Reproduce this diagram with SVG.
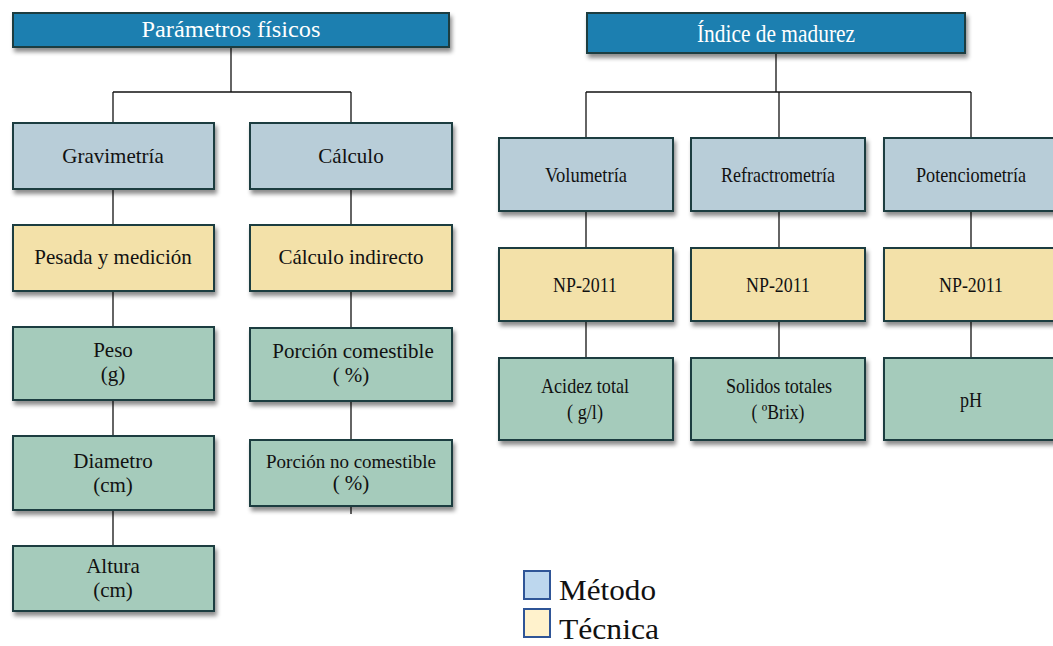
<svg xmlns="http://www.w3.org/2000/svg" width="1053" height="646" viewBox="0 0 1053 646">
  <defs>
    <filter id="shadow" x="-10%" y="-20%" width="130%" height="160%">
      <feDropShadow dx="2" dy="4" stdDeviation="2" flood-color="#000" flood-opacity="0.45"/>
    </filter>
  </defs>
  <style>
    .box { stroke: #1f3c40; stroke-width: 2; filter: url(#shadow); }
    .head { fill: #1f7fb0; }
    .method { fill: #b8cdd8; }
    .tech { fill: #f3e1a9; }
    .result { fill: #a5cbbb; }
    text { font-family: "Liberation Serif", "Times New Roman", serif; fill: #111; text-anchor: middle; }
    .ht { fill: #fff; }
    .l { font-size: 21px; }
    .r { font-size: 22px; }
    .conn line { stroke: #111; stroke-width: 1.3; }
    .leg { stroke: #2f5597; stroke-width: 2; }
    .legt { font-size: 30px; text-anchor: start; }
  </style>

  <!-- connectors -->
  <g id="connectors" class="conn">
    <line x1="231" y1="47" x2="231" y2="92"/>
    <line x1="113" y1="92" x2="351" y2="92"/>
    <line x1="113" y1="92" x2="113" y2="123"/>
    <line x1="351" y1="92" x2="351" y2="123"/>
    <line x1="113" y1="189" x2="113" y2="225"/>
    <line x1="113" y1="291" x2="113" y2="327"/>
    <line x1="113" y1="400" x2="113" y2="436"/>
    <line x1="113" y1="510" x2="113" y2="546"/>
    <line x1="351" y1="189" x2="351" y2="225"/>
    <line x1="351" y1="291" x2="351" y2="328"/>
    <line x1="351" y1="401" x2="351" y2="440"/>
    <line x1="351" y1="506" x2="351" y2="514"/>

    <line x1="776" y1="53" x2="776" y2="92"/>
    <line x1="586" y1="92" x2="971" y2="92"/>
    <line x1="586" y1="92" x2="586" y2="138"/>
    <line x1="779" y1="92" x2="779" y2="138"/>
    <line x1="971" y1="92" x2="971" y2="138"/>
    <line x1="586" y1="211" x2="586" y2="248"/>
    <line x1="779" y1="211" x2="779" y2="248"/>
    <line x1="971" y1="211" x2="971" y2="248"/>
    <line x1="586" y1="321" x2="586" y2="358"/>
    <line x1="779" y1="321" x2="779" y2="358"/>
    <line x1="971" y1="321" x2="971" y2="358"/>
  </g>

  <!-- left tree: physical parameters -->
  <g id="parametros">
    <rect class="box head" x="13" y="13" width="436" height="34"/>
    <text class="ht" x="231" y="37" font-size="24" textLength="179" lengthAdjust="spacingAndGlyphs">Parámetros físicos</text>
  </g>
  <g id="gravimetria">
    <rect class="box method" x="13" y="123" width="201" height="66"/>
    <text class="l" x="113" y="163">Gravimetría</text>
  </g>
  <g id="calculo">
    <rect class="box method" x="250" y="123" width="202" height="66"/>
    <text class="l" x="351" y="163">Cálculo</text>
  </g>
  <g id="pesada">
    <rect class="box tech" x="13" y="225" width="201" height="66"/>
    <text class="l" x="113" y="264">Pesada y medición</text>
  </g>
  <g id="calculo-indirecto">
    <rect class="box tech" x="250" y="225" width="202" height="66"/>
    <text class="l" x="351" y="264">Cálculo indirecto</text>
  </g>
  <g id="peso">
    <rect class="box result" x="13" y="327" width="201" height="73"/>
    <text class="l" x="113" y="357">Peso</text>
    <text class="l" x="113" y="381">(g)</text>
  </g>
  <g id="porcion-comestible">
    <rect class="box result" x="250" y="328" width="202" height="73"/>
    <text class="l" x="353" y="358">Porción comestible</text>
    <text class="l" x="351" y="382">( %)</text>
  </g>
  <g id="diametro">
    <rect class="box result" x="13" y="436" width="201" height="74"/>
    <text class="l" x="113" y="468">Diametro</text>
    <text class="l" x="113" y="492">(cm)</text>
  </g>
  <g id="porcion-no-comestible">
    <rect class="box result" x="250" y="440" width="202" height="66"/>
    <text x="351" y="468" font-size="19">Porción no comestible</text>
    <text class="l" x="351" y="490">( %)</text>
  </g>
  <g id="altura">
    <rect class="box result" x="13" y="546" width="201" height="65"/>
    <text class="l" x="113" y="573">Altura</text>
    <text class="l" x="113" y="597">(cm)</text>
  </g>

  <!-- right tree: maturity index -->
  <g id="indice">
    <rect class="box head" x="587" y="13" width="378" height="40"/>
    <text class="ht" x="776" y="42" font-size="25" textLength="158" lengthAdjust="spacingAndGlyphs">Índice de madurez</text>
  </g>
  <g id="volumetria">
    <rect class="box method" x="499" y="138" width="174" height="73"/>
    <text class="r" x="586" y="182" textLength="82" lengthAdjust="spacingAndGlyphs">Volumetría</text>
  </g>
  <g id="refractrometria">
    <rect class="box method" x="691" y="138" width="174" height="73"/>
    <text class="r" x="778" y="182" textLength="114" lengthAdjust="spacingAndGlyphs">Refractrometría</text>
  </g>
  <g id="potenciometria">
    <rect class="box method" x="884" y="138" width="174" height="73"/>
    <text class="r" x="971" y="182" textLength="110" lengthAdjust="spacingAndGlyphs">Potenciometría</text>
  </g>
  <g id="np-volumetria">
    <rect class="box tech" x="499" y="248" width="174" height="73"/>
    <text class="r" x="585" y="292" textLength="64" lengthAdjust="spacingAndGlyphs">NP-2011</text>
  </g>
  <g id="np-refractrometria">
    <rect class="box tech" x="691" y="248" width="174" height="73"/>
    <text class="r" x="778" y="292" textLength="64" lengthAdjust="spacingAndGlyphs">NP-2011</text>
  </g>
  <g id="np-potenciometria">
    <rect class="box tech" x="884" y="248" width="174" height="73"/>
    <text class="r" x="971" y="292" textLength="64" lengthAdjust="spacingAndGlyphs">NP-2011</text>
  </g>
  <g id="acidez">
    <rect class="box result" x="499" y="358" width="174" height="82"/>
    <text class="r" x="585" y="393" textLength="88" lengthAdjust="spacingAndGlyphs">Acidez total</text>
    <text class="r" x="585" y="419" textLength="36" lengthAdjust="spacingAndGlyphs">( g/l)</text>
  </g>
  <g id="solidos">
    <rect class="box result" x="691" y="358" width="174" height="82"/>
    <text class="r" x="779" y="393" textLength="106" lengthAdjust="spacingAndGlyphs">Solidos totales</text>
    <text class="r" x="778" y="419" textLength="53" lengthAdjust="spacingAndGlyphs">( ºBrix)</text>
  </g>
  <g id="ph">
    <rect class="box result" x="884" y="358" width="174" height="82"/>
    <text class="r" x="971" y="407" textLength="22" lengthAdjust="spacingAndGlyphs">pH</text>
  </g>

  <!-- legend -->
  <g id="legend">
    <rect class="leg" x="524" y="571" width="26" height="28" fill="#bdd7ee"/>
    <text class="legt" x="559" y="600" textLength="97" lengthAdjust="spacingAndGlyphs">Método</text>
    <rect class="leg" x="524" y="609" width="26" height="28" fill="#fff2cc"/>
    <text class="legt" x="559" y="639" textLength="100" lengthAdjust="spacingAndGlyphs">Técnica</text>
  </g>
</svg>
